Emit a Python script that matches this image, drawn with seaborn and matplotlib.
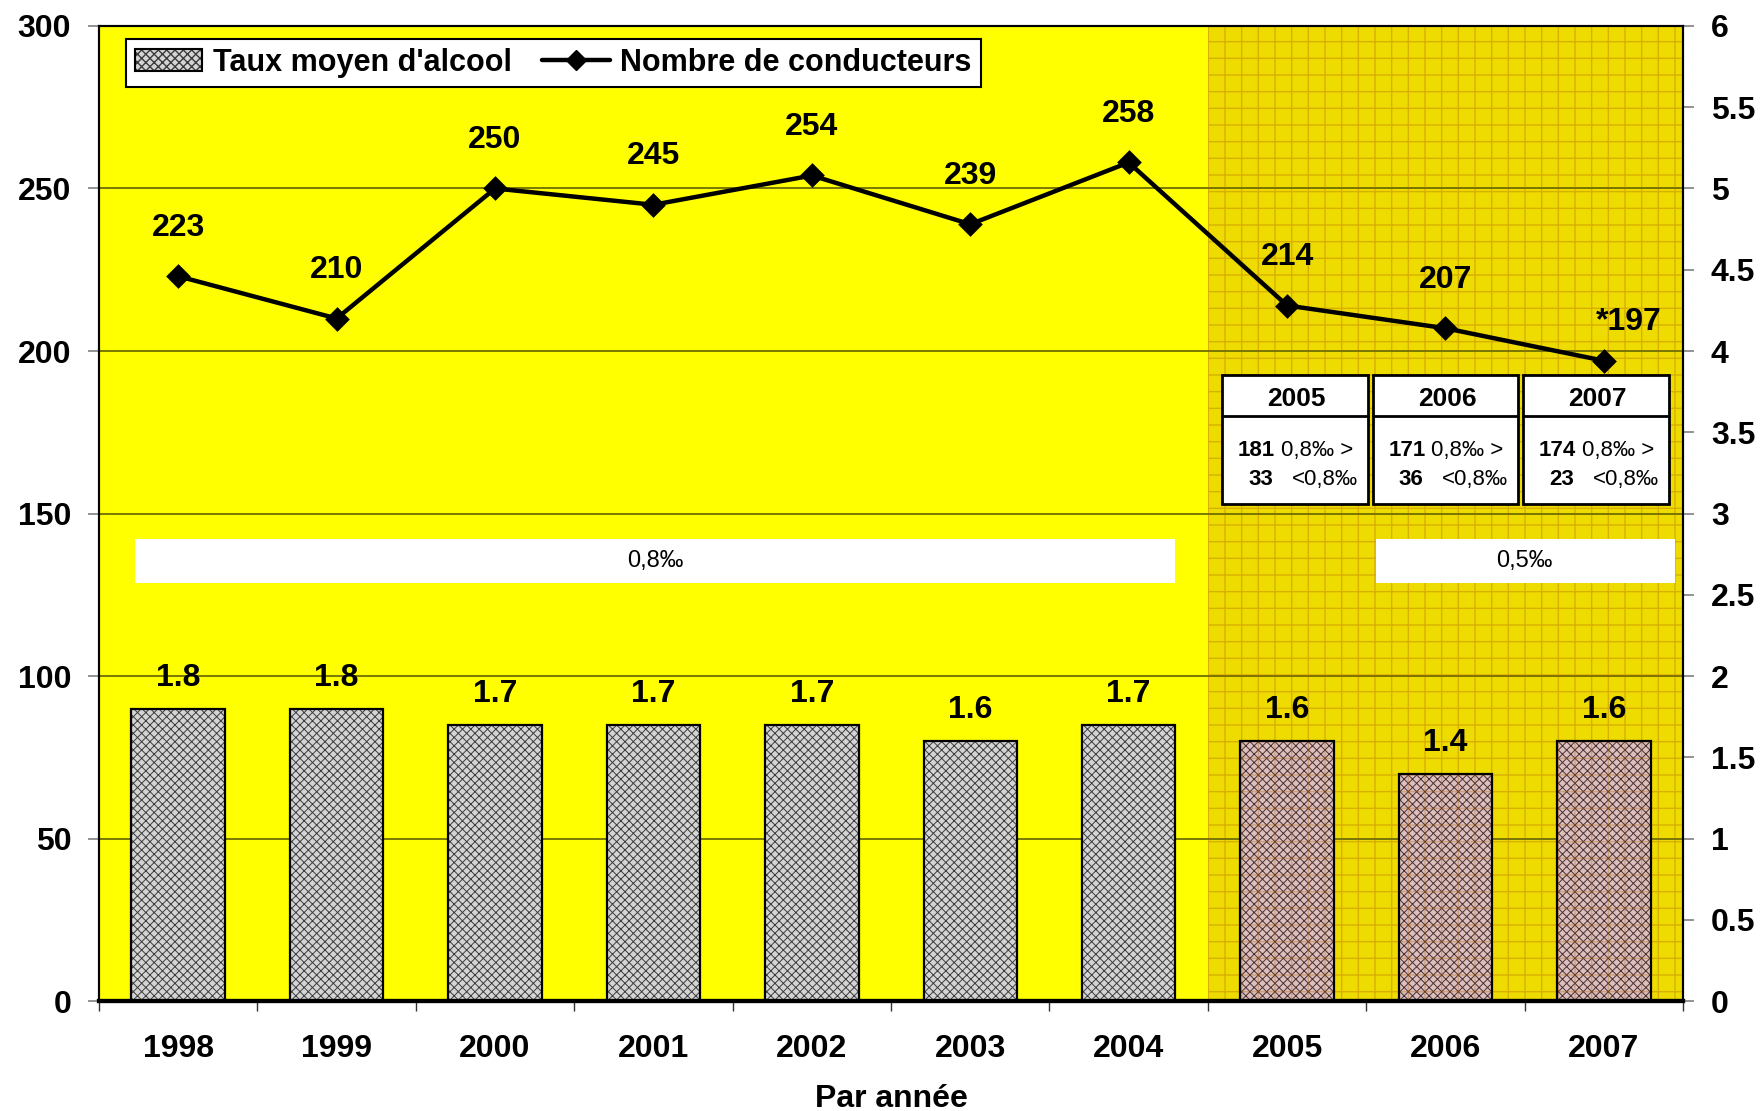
import numpy as np
import pandas as pd
import seaborn as sns
import matplotlib.pyplot as plt
from matplotlib.patches import Rectangle, Patch
from matplotlib.lines import Line2D

# data
annees = ['1998', '1999', '2000', '2001', '2002', '2003', '2004', '2005', '2006', '2007']
taux_moyen = [1.8, 1.8, 1.7, 1.7, 1.7, 1.6, 1.7, 1.6, 1.4, 1.6]
nb_conducteurs = [223, 210, 250, 245, 254, 239, 258, 214, 207, 197]
labels_conducteurs = ['223', '210', '250', '245', '254', '239', '258', '214', '207', '*197']

# small table for the last three years
table_annees = ['2005', '2006', '2007']
au_dessus_08 = [181, 171, 174]
en_dessous_08 = [33, 36, 23]

df = pd.DataFrame({'annee': annees, 'taux': taux_moyen, 'conducteurs': nb_conducteurs})

sns.set_style('white')
plt.rcParams['font.family'] = ['Liberation Sans', 'DejaVu Sans']
plt.rcParams['text.color'] = 'black'
plt.rcParams['axes.labelcolor'] = 'black'
plt.rcParams['xtick.color'] = 'black'
plt.rcParams['ytick.color'] = 'black'
plt.rcParams['hatch.linewidth'] = 0.7

fig = plt.figure(figsize=(17.62, 11.11), dpi=100)
ax = fig.add_axes([0.0562, 0.099, 0.899, 0.8776])
ax.set_facecolor('#FFFF00')

# darker zone for 2005-2007
ax.axvspan(6.5, 9.5, facecolor='#EEDB00', edgecolor='none', zorder=0)

for y in range(1, 6):
    ax.axhline(y, color='#6E6E00', lw=1.3, zorder=0.5)

# bars: average alcohol level (right axis)
sns.barplot(data=df, x='annee', y='taux', ax=ax, width=0.59, color='white',
            saturation=1, errorbar=None, zorder=2)
bars = ax.containers[0]
for i, p in enumerate(bars.patches):
    if i < 7:
        p.set_facecolor('#d4d4d4')
        p.set_edgecolor('#3c3c3c')
    else:
        p.set_facecolor('#dcc0c0')
        p.set_edgecolor('#4a3030')
    p.set_hatch('xxxx')
    p.set_linewidth(0)
    ax.add_patch(Rectangle(p.get_xy(), p.get_width(), p.get_height(), fill=False,
                           edgecolor='black', lw=1.6, zorder=2.6))
    ax.annotate(f'{taux_moyen[i]:.1f}', (p.get_x() + p.get_width() / 2, p.get_height()),
                xytext=(0, 22), textcoords='offset points', ha='center', va='center',
                fontsize=23, fontweight='bold', zorder=5)

# grid pattern over the 2005-2007 zone
plt.rcParams['hatch.linewidth'] = 1.0
ax.axvspan(6.5, 9.5, fill=False, hatch='+', edgecolor='#B06000', lw=0, alpha=0.35, zorder=2.5)

ax.set_ylim(0, 6)
ax.set_xlim(-0.5, 9.5)
ax.set_ylabel('')

# line: number of drivers (left axis)
ax2 = ax.twinx()
sns.pointplot(data=df, x='annee', y='conducteurs', ax=ax2, color='black', markers='D',
              linestyles='-', errorbar=None, markersize=10, linewidth=3.2, zorder=6)
for i, v in enumerate(nb_conducteurs):
    dx = 18 if labels_conducteurs[i].startswith('*') else 0
    dy = 28 if labels_conducteurs[i].startswith('*') else 35
    ax2.annotate(labels_conducteurs[i], (i, v), xytext=(dx, dy), textcoords='offset points',
                 ha='center', va='center', fontsize=23, fontweight='bold')

ax2.set_ylim(0, 300)
ax2.set_xlim(-0.5, 9.5)
ax2.set_yticks(np.arange(0, 301, 50))
ax2.set_ylabel('')

# tick sides: bars scale on the right, drivers scale on the left
ax.yaxis.tick_right()
ax.yaxis.set_label_position('right')
ax.set_yticks(np.arange(0, 6.01, 0.5))
ax.set_yticklabels([f'{v:g}' for v in np.arange(0, 6.01, 0.5)])
ax2.yaxis.tick_left()

# legal limit bands
ax2.add_patch(Rectangle((-0.27, 128.7), 6.56, 13.5, facecolor='white', edgecolor='none', zorder=1))
ax2.text(3.01, 135.5, '0,8‰', ha='center', va='center', fontsize=17)
ax2.add_patch(Rectangle((7.56, 128.7), 1.89, 13.5, facecolor='white', edgecolor='none', zorder=1))
ax2.text(8.5, 135.5, '0,5‰', ha='center', va='center', fontsize=17)

# boxes with the split above / below 0.8 per mille
for j, an in enumerate(table_annees):
    x0 = 6.59 + 0.95 * j
    ax2.add_patch(Rectangle((x0, 152.9), 0.92, 39.8, facecolor='white', edgecolor='black', lw=2, zorder=3))
    ax2.plot([x0, x0 + 0.92], [179.9, 179.9], color='black', lw=2, zorder=4)
    ax2.text(x0 + 0.47, 185.2, an, ha='center', va='center', fontsize=19, fontweight='bold', zorder=5)
    ax2.text(x0 + 0.335, 169.3, str(au_dessus_08[j]), ha='right', va='center', fontsize=16, fontweight='bold', zorder=5)
    ax2.text(x0 + 0.37, 169.3, '0,8‰ >', ha='left', va='center', fontsize=16, zorder=5)
    ax2.text(x0 + 0.32, 160.6, str(en_dessous_08[j]), ha='right', va='center', fontsize=16, fontweight='bold', zorder=5)
    ax2.text(x0 + 0.44, 160.6, '<0,8‰', ha='left', va='center', fontsize=16, zorder=5)

# axes styling
for a in (ax, ax2):
    for s in a.spines.values():
        s.set_color('black')
        s.set_linewidth(1.5)
ax.spines['bottom'].set_linewidth(3)
ax2.spines['bottom'].set_linewidth(3)

ax.tick_params(axis='y', which='major', right=True, left=False, labelright=True, labelleft=False,
               length=8, color='#808080', width=1.2, pad=12, labelsize=23)
ax2.tick_params(axis='y', which='major', left=True, right=False, labelleft=True, labelright=False,
                length=8, color='#808080', width=1.2, pad=12, labelsize=23)
for t in ax.get_yticklabels() + ax2.get_yticklabels():
    t.set_fontweight('bold')

ax.set_xticks(range(len(annees)))
ax.set_xticklabels(annees, fontsize=23, fontweight='bold')
ax.set_xticks(np.arange(-0.5, 10, 1), minor=True)
ax.tick_params(axis='x', which='major', length=0, pad=24, bottom=True)
ax.tick_params(axis='x', which='minor', length=7, width=1, color='#333333', bottom=True)
ax2.tick_params(axis='x', which='both', length=0, labelbottom=False)
ax.set_xlabel('Par année', fontsize=23, fontweight='bold', labelpad=14)
ax2.set_xlabel('')

# legend
h_bar = (Patch(facecolor='#d4d4d4', edgecolor='#3c3c3c', hatch='xxxx', lw=0),
         Patch(fill=False, edgecolor='black', lw=1.5))
h_line = Line2D([], [], color='black', lw=3.2, marker='D', markersize=10)
leg = ax2.legend([h_bar, h_line], ["Taux moyen d'alcool", 'Nombre de conducteurs'],
                 loc='upper left', bbox_to_anchor=(0.017, 0.987), borderaxespad=0, ncol=2,
                 prop={'weight': 'bold', 'size': 22}, frameon=True, fancybox=False,
                 handlelength=2.2, handletextpad=0.35, columnspacing=1.0, borderpad=0.3)
leg.get_frame().set_edgecolor('black')
leg.get_frame().set_linewidth(1.5)
leg.get_frame().set_facecolor('white')
leg.get_frame().set_alpha(1)

fig.savefig('out.png', dpi=100)
